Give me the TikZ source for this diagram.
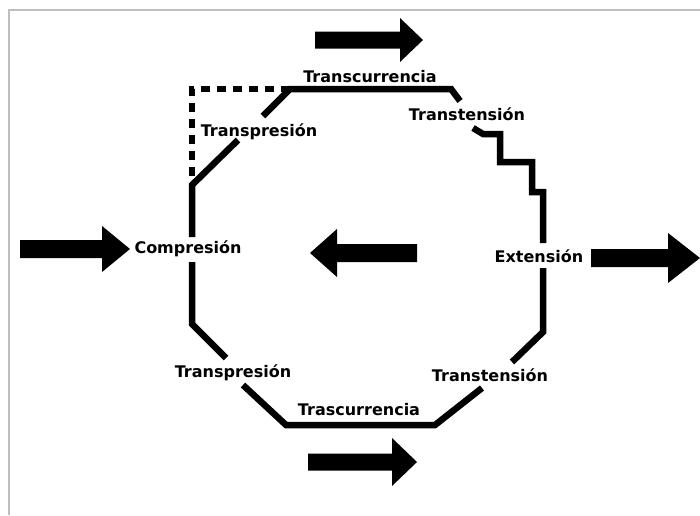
\documentclass[tikz,border=0pt]{standalone}
\usepackage{fontspec}
\setmainfont{DejaVu Sans}
\definecolor{framegray}{RGB}{190,190,190}
\newcommand{\blkarrow}[6]{% x0, xhead, xtip, yc, half shaft, half head
  \fill[arrowfill] (#1,{#4-#5}) -- (#2,{#4-#5}) -- (#2,{#4-#6}) -- (#3,#4) -- (#2,{#4+#6}) -- (#2,{#4+#5}) -- (#1,{#4+#5}) -- cycle;}
\begin{document}
\begin{tikzpicture}[x=1pt,y=-1pt,
  lbl/.style={inner sep=0pt,anchor=base,font=\bfseries\fontsize{16}{19}\selectfont},
  fault/.style={line width=6.5pt,line cap=butt,line join=miter},
  faultdash/.style={fault,dash pattern=on 9pt off 7pt},
  arrowfill/.style={fill=black},
  frame/.style={draw=framegray,line width=2pt}]
\useasboundingbox (0,0) rectangle (700,515);
\draw[frame] (9,515) -- (9,9.5) -- (700,9.5);

% labels
\node[lbl] (tc1) at (370,82) {Transcurrencia};
\node[lbl] (tt1) at (467,120) {Transtensión};
\node[lbl] (tp1) at (259,136) {Transpresión};
\node[lbl] (comp) at (188,253) {Compresión};
\node[lbl] (ext) at (539,262) {Extensión};
\node[lbl] (tp2) at (233,377) {Transpresión};
\node[lbl] (tc2) at (359,415) {Trascurrencia};
\node[lbl] (tt2) at (490,381) {Transtensión};

% vertices
\coordinate (d0) at (290,89);
\coordinate (d1) at (192,89);
\coordinate (d2) at (192,185);

% dashed branch
\draw[faultdash] (d0) -- (d1) -- (d2);

% solid outline
\draw[fault] (263,116) -- (d0) -- (451,89) -- (460,101);
\draw[fault] (238,140) -- (d2) -- (192,237);
\draw[fault] (192,262) -- (192,324) -- (226,358);
\draw[fault] (243,385) -- (286,425) -- (435,425) -- (482,388);
\draw[fault] (512,362) -- (543,332) -- (543,268);
\draw[fault] (543,243) -- (543,192) -- (532,192) -- (532,162) -- (500,162) -- (500,134) -- (483,134) -- (473,128);

% block arrows
\blkarrow{315}{400}{423}{40}{8.5}{22}
\blkarrow{20}{102}{130}{249}{9}{23}
\blkarrow{417}{337}{310}{253}{9}{24}
\blkarrow{591}{668}{700}{258}{9}{25}
\blkarrow{308}{392}{417}{462}{8.5}{24}
\end{tikzpicture}
\end{document}
